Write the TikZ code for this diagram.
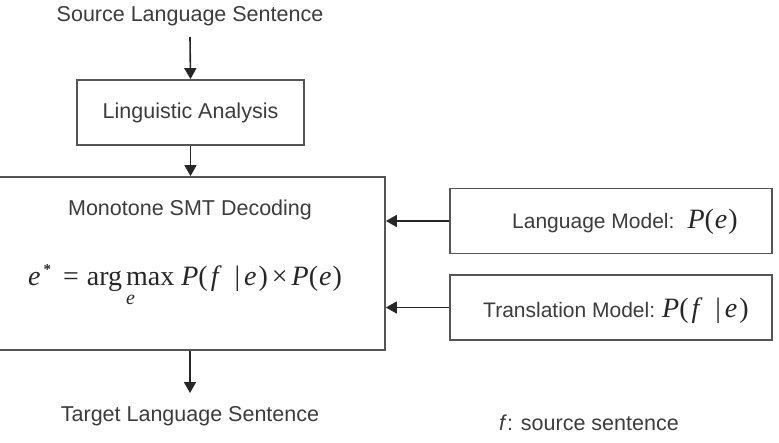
\documentclass[tikz,border=0pt]{standalone}
\usepackage{fontspec}
\setmainfont{Liberation Sans}
\newfontfamily\tnr{Liberation Serif}
\usetikzlibrary{arrows.meta}
\definecolor{txt}{HTML}{3C3C3C}
\definecolor{edge}{HTML}{555555}
\newcommand{\iv}[1]{\hbox{\tnr\itshape #1}}
\newcommand{\rv}[1]{\hbox{\tnr #1}}
\newcommand{\Pfe}{\iv{P}\rv{(}\hspace{3pt}\iv{f}\hspace{16pt}\rv{|}\hspace{4pt}\iv{e}\hspace{2pt}\rv{)}}
\newcommand{\Pe}{\iv{P}\rv{(}\hspace{1pt}\iv{e}\hspace{1pt}\rv{)}}
\tikzset{
  lbl/.style={text=txt, font=\fontsize{21.5}{26}\selectfont, inner sep=0pt},
  smlbl/.style={text=txt, font=\fontsize{21}{26}\selectfont, inner sep=0pt},
  mathlbl/.style={text=black!85, font=\fontsize{28}{30}\selectfont, inner sep=0pt},
  boxnode/.style={draw=edge, line width=1.8pt, rectangle, inner sep=0pt},
  conn/.style={draw=black!85, line width=1.6pt, -{Triangle[length=11pt,width=12pt]}}
}
\begin{document}
\begin{tikzpicture}[x=1pt,y=-1pt]
\useasboundingbox (0,0) rectangle (779,442);
\fill[white] (0,0) rectangle (779,442);
\node[lbl] (src) at (190,16) {Source Language Sentence};
\node[boxnode, minimum width=227pt, minimum height=65pt] (ling) at (190.5,112.5) {};
\node[lbl] (lingt) at (ling.center) {Linguistic Analysis};
\node[boxnode, minimum width=405pt, minimum height=173pt] (main) at (182.5,263.5) {};
\node[lbl] (maint) at (190,210) {Monotone SMT Decoding};
\node[mathlbl, anchor=base west] (form) at (28,285)
  {\iv{e}\hspace{3pt}\raisebox{11pt}{\fontsize{15}{15}\selectfont\tnr\bfseries *}\hspace{12pt}\rv{=}\hspace{8pt}$\mathop{\hbox{\rv{arg}\hspace{4pt}\rv{max}}}\limits_{\raisebox{-7pt}{\fontsize{20}{20}\selectfont\iv{e}}}$\hspace{7pt}\Pfe\hspace{4pt}\rv{\texttimes}\hspace{4pt}\Pe};
\node[boxnode, minimum width=322pt, minimum height=65pt] (lm) at (611,221) {};
\node[smlbl, anchor=base west] (lmt) at (512,228) {Language Model:\hspace{13pt}{\color{black!85}\fontsize{28}{30}\selectfont\Pe}};
\node[boxnode, minimum width=322pt, minimum height=65pt] (tm) at (611,307.5) {};
\node[smlbl, anchor=base west] (tmt) at (483,317) {Translation Model:\hspace{7pt}{\color{black!85}\fontsize{28}{30}\selectfont\Pfe}};
\node[lbl] (tgt) at (190,416) {Target Language Sentence};
\node[lbl, anchor=base west] (leg1) at (499,430) {\textit{f}: source sentence};
\node[lbl, anchor=base west] (leg2) at (521,457) {\textit{e}: target sentence};
\coordinate (srcb) at (190,37);
\coordinate (tgtt) at (190,393);
\draw[conn] (srcb) -- (ling.north);
\draw[conn] (ling.south) -- (main.north -| ling.south);
\draw[conn] (lm.west) -- (main.east |- lm.west);
\draw[conn] (tm.west) -- (main.east |- tm.west);
\draw[conn] (main.south -| tgtt) -- (tgtt);
\end{tikzpicture}
\end{document}
